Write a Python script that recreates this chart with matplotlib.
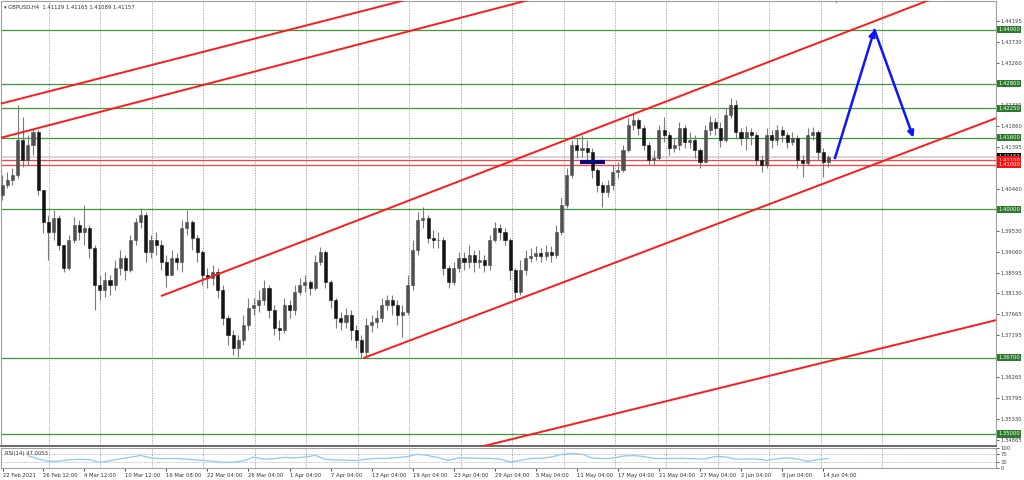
import numpy as np
import matplotlib
matplotlib.use("Agg")
import matplotlib.pyplot as plt
from matplotlib import font_manager

# ---------------- data ----------------
title_text = "GBPUSD,H4  1.41129 1.41165 1.41089 1.41157"
rsi_text = "RSI(14) 47.0053"

first_open = 1.4021
closes = [
    1.4032, 1.4054, 1.4065, 1.4077, 1.4155, 1.4110, 1.4143, 1.4172, 1.4043, 1.3972,
    1.3950, 1.3981, 1.3921, 1.3870, 1.3932, 1.3965, 1.3950, 1.3959, 1.3914, 1.3832,
    1.3821, 1.3843, 1.3832, 1.3870, 1.3892, 1.3865, 1.3932, 1.3972, 1.3988, 1.3905,
    1.3932, 1.3921, 1.3883, 1.3854, 1.3892, 1.3883, 1.3959, 1.3972, 1.3936, 1.3905,
    1.3854, 1.3847, 1.3861, 1.3821, 1.3758, 1.3720, 1.3691, 1.3709, 1.3743, 1.3781,
    1.3787, 1.3798, 1.3825, 1.3776, 1.3736, 1.3731, 1.3787, 1.3776, 1.3816, 1.3832,
    1.3838, 1.3825, 1.3883, 1.3905, 1.3838, 1.3798, 1.3758, 1.3749, 1.3765, 1.3731,
    1.3709, 1.3682, 1.3743, 1.3749, 1.3758, 1.3787, 1.3798, 1.3787, 1.3765, 1.3772,
    1.3832, 1.3910, 1.3976, 1.3981, 1.3936, 1.3932, 1.3932, 1.3870, 1.3838, 1.3870,
    1.3892, 1.3883, 1.3898, 1.3883, 1.3887, 1.3876, 1.3932, 1.3959, 1.3950, 1.3932,
    1.3865, 1.3816, 1.3865, 1.3892, 1.3896, 1.3903, 1.3896, 1.3905, 1.3898, 1.3950,
    1.4010, 1.4077, 1.4143, 1.4132, 1.4137, 1.4128, 1.4088, 1.4054, 1.4039, 1.4054,
    1.4083, 1.4088, 1.4132, 1.4188, 1.4199, 1.4181, 1.4143, 1.4110, 1.4114, 1.4177,
    1.4166, 1.4137, 1.4143, 1.4181, 1.4150, 1.4155, 1.4132, 1.4106, 1.4177, 1.4195,
    1.4181, 1.4155, 1.4210, 1.4232, 1.4172, 1.4159, 1.4172, 1.4166, 1.4110, 1.4099,
    1.4166, 1.4155, 1.4177, 1.4166, 1.4150, 1.4159, 1.4110, 1.4103, 1.4166, 1.4172,
    1.4128, 1.4106, 1.41157,
]
highs = [
    1.4054, 1.4077, 1.4083, 1.4092, 1.4232, 1.4206, 1.4166, 1.4179, 1.4177, 1.4043,
    1.3988, 1.3999, 1.3988, 1.3921, 1.3943, 1.3983, 1.3976, 1.4010, 1.3965, 1.3921,
    1.3854, 1.3861, 1.3854, 1.3887, 1.3910, 1.3898, 1.3943, 1.3981, 1.4003, 1.3994,
    1.3943, 1.3950, 1.3932, 1.3898, 1.3910, 1.3903, 1.3976, 1.3999, 1.3976, 1.3943,
    1.3910, 1.3870, 1.3876, 1.3870, 1.3832, 1.3765, 1.3731, 1.3720, 1.3765, 1.3803,
    1.3803, 1.3821, 1.3843, 1.3832, 1.3787, 1.3754, 1.3803, 1.3798, 1.3832, 1.3847,
    1.3854, 1.3843, 1.3898, 1.3916, 1.3910, 1.3843, 1.3803, 1.3772, 1.3781, 1.3776,
    1.3743, 1.3720, 1.3758, 1.3765, 1.3776, 1.3803, 1.3809, 1.3809, 1.3798, 1.3787,
    1.3854, 1.3932, 1.3994, 1.4005, 1.3988, 1.3954, 1.3950, 1.3939, 1.3876, 1.3883,
    1.3905, 1.3905, 1.3921, 1.3910, 1.3910, 1.3898, 1.3943, 1.3972, 1.3968, 1.3959,
    1.3936, 1.3870, 1.3887, 1.3910, 1.3914, 1.3919, 1.3914, 1.3921, 1.3919, 1.3965,
    1.4025, 1.4092, 1.4155, 1.4159, 1.4166, 1.4155, 1.4137, 1.4092, 1.4061, 1.4065,
    1.4099, 1.4106, 1.4143, 1.4204, 1.4215, 1.4204, 1.4188, 1.4150, 1.4132, 1.4188,
    1.4206, 1.4172, 1.4159, 1.4195, 1.4188, 1.4172, 1.4166, 1.4137, 1.4188, 1.4208,
    1.4204, 1.4195, 1.4226, 1.4248, 1.4244, 1.4181, 1.4186, 1.4181, 1.4172, 1.4121,
    1.4181, 1.4177, 1.4188, 1.4186, 1.4172, 1.4172, 1.4166, 1.4121, 1.4181, 1.4184,
    1.4177, 1.4137, 1.4121,
]
lows = [
    1.4010, 1.4021, 1.4048, 1.4054, 1.4070, 1.4094, 1.4099, 1.4121, 1.4032, 1.3947,
    1.3887, 1.3932, 1.3910, 1.3861, 1.3865, 1.3925, 1.3932, 1.3921, 1.3892, 1.3776,
    1.3798, 1.3805, 1.3809, 1.3821, 1.3854, 1.3843, 1.3861, 1.3921, 1.3959, 1.3883,
    1.3892, 1.3898, 1.3865, 1.3827, 1.3861, 1.3865, 1.3861, 1.3943, 1.3910, 1.3883,
    1.3832, 1.3825, 1.3832, 1.3803, 1.3743, 1.3698, 1.3676, 1.3671, 1.3698, 1.3731,
    1.3765, 1.3772, 1.3787, 1.3758, 1.3720, 1.3709, 1.3725, 1.3758, 1.3765, 1.3809,
    1.3816, 1.3809, 1.3821, 1.3876, 1.3825, 1.3781, 1.3736, 1.3731, 1.3736, 1.3709,
    1.3691, 1.3669, 1.3674, 1.3727, 1.3736, 1.3749, 1.3776, 1.3765, 1.3743, 1.3716,
    1.3765, 1.3821, 1.3898, 1.3959, 1.3925, 1.3914, 1.3914, 1.3854, 1.3825, 1.3832,
    1.3861, 1.3865, 1.3870, 1.3861, 1.3870, 1.3861, 1.3865, 1.3928, 1.3932, 1.3921,
    1.3843, 1.3798, 1.3809, 1.3854, 1.3883, 1.3887, 1.3883, 1.3887, 1.3883, 1.3892,
    1.3943, 1.4003, 1.4070, 1.4114, 1.4117, 1.4110, 1.4070, 1.4039, 1.4005, 1.4028,
    1.4043, 1.4070, 1.4083, 1.4128, 1.4177, 1.4166, 1.4132, 1.4099, 1.4099, 1.4110,
    1.4150, 1.4121, 1.4128, 1.4132, 1.4137, 1.4137, 1.4114, 1.4092, 1.4106, 1.4166,
    1.4166, 1.4139, 1.4150, 1.4204, 1.4159, 1.4143, 1.4132, 1.4143, 1.4099, 1.4083,
    1.4092, 1.4137, 1.4143, 1.4150, 1.4137, 1.4143, 1.4092, 1.4072, 1.4099, 1.4155,
    1.4110, 1.4072, 1.4094,
]

rsi_values = [
    62, 45, 33, 34, 41, 43, 42, 28, 36, 46,
    54, 63, 50, 47, 48, 46, 42, 38, 34, 28,
    29, 36, 55, 44, 47, 53, 50, 55, 63, 43,
    40, 39, 37, 44, 48, 48, 52, 57, 69, 62,
    52, 38, 51, 50, 48, 48, 45, 30, 38, 48,
    48, 55, 68, 73, 69, 50, 47, 49, 60, 62,
    58, 48, 47, 48, 48, 46, 45, 58, 55, 44,
    45, 45, 38, 46, 51, 45, 33, 42, 47,
]
rsi_first_bar = 6
rsi_bar_step = 2
rsi_levels = [70, 30]

x_labels = ["22 Feb 2021", "26 Feb 12:00", "4 Mar 12:00", "10 Mar 12:00", "16 Mar 08:00",
            "22 Mar 04:00", "26 Mar 04:00", "1 Apr 04:00", "7 Apr 04:00", "13 Apr 04:00",
            "19 Apr 04:00", "23 Apr 04:00", "29 Apr 04:00", "5 May 04:00", "11 May 04:00",
            "17 May 04:00", "21 May 04:00", "27 May 04:00", "2 Jun 04:00", "8 Jun 04:00",
            "14 Jun 04:00"]

price_ticks = [1.44195, 1.43730, 1.43260, 1.42330, 1.41860, 1.41395, 1.40460,
               1.39530, 1.39060, 1.38595, 1.38130, 1.37665, 1.37195, 1.36265,
               1.35795, 1.35330, 1.34865]
green_levels = [1.44000, 1.42800, 1.42250, 1.41600, 1.40000, 1.36700, 1.35000]
red_levels = [1.41100, 1.41000]
last_price = 1.41157

# trend lines: (bar start, bar end), (price start, price end)
trend_bars = [(0.57, 79.5), (0.57, 103.5), (31.95, 181.65), (71.4, 194.9), (94.1, 194.9)]
trend_prices = [(1.4235, 1.4466), (1.4159, 1.4466), (1.3807, 1.4466), (1.3669, 1.4204), (1.3471, 1.3754)]

# projected path (blue arrows)
arrow_bars = [163.3, 171.0, 178.6]
arrow_prices = [1.4114, 1.4400, 1.4160]

# navy marker
marker_bars = [113.6, 118.5]
marker_price = 1.4106

# ---------------- fonts ----------------
try:
    font_manager.findfont("Liberation Sans Narrow", fallback_to_default=False)
    FONT = "Liberation Sans Narrow"
    FS = 5.2
except Exception:
    FONT = "DejaVu Sans"
    FS = 3.8
plt.rcParams["font.family"] = [FONT, "DejaVu Sans"]

# ---------------- figure ----------------
W, H = 1024, 480
fig = plt.figure(figsize=(W / 100, H / 100), dpi=100)
fig.patch.set_facecolor("white")

def box(l, t, r, b):
    return [l / W, 1 - b / H, (r - l) / W, (b - t) / H]

ax = fig.add_axes(box(1, 1, 996, 446))
axr = fig.add_axes(box(1, 448, 996, 468), sharex=ax)

ax.set_xlim(0.76, 194.7)
ax.set_ylim(1.34732, 1.44641)

closes_a = np.array(closes)
opens_a = np.r_[first_open, closes_a[:-1]]
highs_a = np.maximum(np.array(highs), np.maximum(opens_a, closes_a))
lows_a = np.minimum(np.array(lows), np.minimum(opens_a, closes_a))
bars = np.arange(len(closes_a))

# grid
grid_bars = list(10.1 + 10.03 * np.arange(16)) + [172.5]
for g in grid_bars:
    for a in (ax, axr):
        a.axvline(g, color="#9a9a9a", lw=0.6, ls=(0, (1.5, 1.5)), zorder=1)

# levels
for lv in green_levels:
    ax.axhline(lv, color="#3f973f", lw=0.9, zorder=2)
ax.axhline(last_price, color="#d0d0d0", lw=1.2, zorder=2)
for lv in red_levels:
    ax.axhline(lv, color="#ff4040", lw=0.9, zorder=2)

# candles
ax.vlines(bars, lows_a, highs_a, color="#7a7a7a", lw=0.8, zorder=3)
up = closes_a >= opens_a
ax.bar(bars[up], (closes_a - opens_a)[up], bottom=opens_a[up], width=0.6,
       color="#505050", edgecolor="#505050", lw=0.4, zorder=4)
ax.bar(bars[~up], (closes_a - opens_a)[~up], bottom=opens_a[~up], width=0.6,
       color="#151515", edgecolor="#151515", lw=0.4, zorder=4)

# navy marker
ax.plot(marker_bars, [marker_price, marker_price], color="#0a0a78", lw=3.0,
        solid_capstyle="butt", zorder=5)

# trend lines
for tb, tp in zip(trend_bars, trend_prices):
    ax.plot(tb, tp, color="#ff1a1a", lw=1.4, zorder=5, solid_capstyle="butt")

# projection arrows
for i in range(2):
    ax.annotate("", xy=(arrow_bars[i + 1], arrow_prices[i + 1]),
                xytext=(arrow_bars[i], arrow_prices[i]),
                arrowprops=dict(arrowstyle="-|>", color="#0a14ff", lw=1.8,
                                mutation_scale=9, shrinkA=0, shrinkB=0),
                zorder=6)

# title
ax.text(3 / 995, 1 - 6 / 445, "\u25BE " + title_text, transform=ax.transAxes,
        fontsize=FS, color="#303030", va="center", ha="left", zorder=7)
ax.text(836 / 5.13 + 0.6, 1.4462, "\u25BE", fontsize=4, color="#909090",
        ha="center", va="center", zorder=7, family="DejaVu Sans")

# price scale
ax.yaxis.tick_right()
ax.set_yticks(price_ticks)
ax.set_yticklabels([f"{p:.5f}" for p in price_ticks])
ax.tick_params(axis="y", right=True, length=2, width=0.6, pad=1.5,
               labelsize=FS, colors="#404040")
ax.tick_params(axis="x", bottom=False, labelbottom=False)

def level_box(price, fc, dy=0.0):
    ax.text(1.0025, price + dy, f"{price:.5f}", transform=ax.get_yaxis_transform(),
            fontsize=FS, color="white", va="center", ha="left", zorder=10,
            clip_on=False,
            bbox=dict(boxstyle="square,pad=0.2", fc=fc, ec="none"))

for lv in green_levels:
    level_box(lv, "#2c7a2c")
level_box(last_price, "black", 0.0003)
for lv in red_levels:
    level_box(lv, "#ff1010")

for s in ("top", "left", "right"):
    ax.spines[s].set_color("#a0a0a0")
    ax.spines[s].set_linewidth(0.8)
ax.spines["bottom"].set_color("#505050")
ax.spines["bottom"].set_linewidth(1.2)

# RSI panel
rsi_bars = rsi_first_bar + rsi_bar_step * np.arange(len(rsi_values))
axr.set_ylim(0, 100)
axr.plot(rsi_bars, rsi_values, color="#8cc8f5", lw=0.9, zorder=3)
for lv in rsi_levels:
    axr.axhline(lv, color="#b0b0b0", lw=0.6, ls=(0, (1.5, 1.5)), zorder=1)
axr.text(4 / 995, 0.7, rsi_text, transform=axr.transAxes, fontsize=FS,
         color="#303030", va="center", ha="left", zorder=7)
axr.yaxis.tick_right()
axr.set_yticks([100, 70, 30, 0])
axr.set_yticklabels(["100", "70", "30", "0"])
axr.tick_params(axis="y", right=True, length=2, width=0.6, pad=1.5,
                labelsize=FS, colors="#404040")
for s in ("top", "left", "right", "bottom"):
    axr.spines[s].set_color("#a0a0a0")
    axr.spines[s].set_linewidth(0.8)

label_bars = [1.1] + [9 + 8 * k for k in range(len(x_labels) - 1)]
axr.set_xticks(label_bars)
axr.set_xticklabels(x_labels, ha="left")
axr.tick_params(axis="x", length=2, width=0.6, pad=1.5, labelsize=FS,
                colors="#303030")
axr.set_xlim(0.76, 194.7)

fig.savefig("out.png", dpi=100, facecolor="white")
